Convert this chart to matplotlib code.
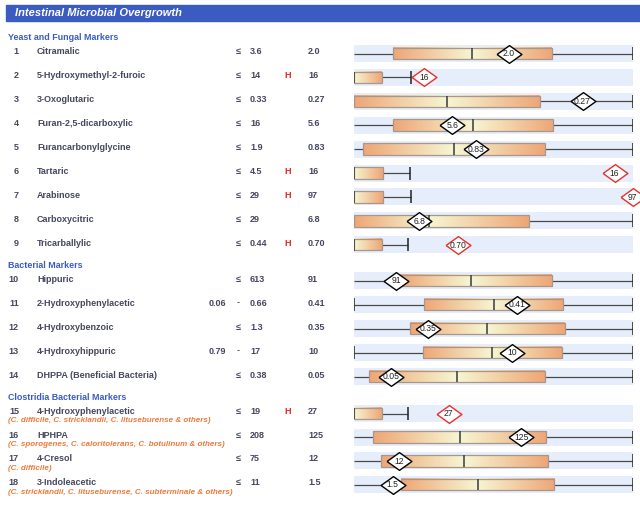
import numpy as np
import matplotlib
matplotlib.use("Agg")
import matplotlib.pyplot as plt
from matplotlib.colors import LinearSegmentedColormap
from matplotlib.patches import Rectangle

plt.rcParams['font.family'] = ['Liberation Sans', 'DejaVu Sans']

# === Data ===
TITLE = "Intestinal Microbial Overgrowth"
sections = ["Yeast and Fungal Markers", "Bacterial Markers", "Clostridia Bacterial Markers"]
section_sizes = [9, 5, 4]

names = ["Citramalic", "5-Hydroxymethyl-2-furoic", "3-Oxoglutaric", "Furan-2,5-dicarboxylic",
         "Furancarbonylglycine", "Tartaric", "Arabinose", "Carboxycitric", "Tricarballylic",
         "Hippuric", "2-Hydroxyphenylacetic", "4-Hydroxybenzoic", "4-Hydroxyhippuric",
         "DHPPA (Beneficial Bacteria)",
         "4-Hydroxyphenylacetic", "HPHPA", "4-Cresol", "3-Indoleacetic"]
subtitles = ["(C. difficile, C. stricklandii, C. lituseburense & others)",
             "(C. sporogenes, C. caloritolerans, C. botulinum & others)",
             "(C. difficile)",
             "(C. stricklandii, C. lituseburense, C. subterminale & others)"]
lower = ["", "", "", "", "", "", "", "", "", "", "0.06", "", "0.79", "", "", "", "", ""]
upper = ["3.6", "14", "0.33", "16", "1.9", "4.5", "29", "29", "0.44",
         "613", "0.66", "1.3", "17", "0.38", "19", "208", "75", "11"]
flags = ["", "H", "", "", "", "H", "H", "", "H", "", "", "", "", "", "H", "", "", ""]
results = ["2.0", "16", "0.27", "5.6", "0.83", "16", "97", "6.8", "0.70",
           "91", "0.41", "0.35", "10", "0.05", "27", "125", "12", "1.5"]

# box stats on a 0-1 scale
whisker_lo = [0, 0, 0, 0, 0, 0, 0, 0, 0, 0, 0, 0, 0, 0, 0, 0, 0, 0]
box_lo = [0.138, 0, 0, 0.138, 0.034, 0, 0, 0, 0, 0.165, 0.251, 0.201, 0.249, 0.054, 0, 0.069, 0.095, 0.170]
median = [0.423, 0, 0.335, 0.425, 0.359, 0, 0, 0.270, 0, 0.419, 0.500, 0.476, 0.496, 0.370, 0, 0.379, 0.395, 0.444]
box_hi = [0.709, 0.100, 0.668, 0.712, 0.684, 0.103, 0.103, 0.627, 0.099, 0.708, 0.750, 0.755, 0.744, 0.684,
          0.100, 0.689, 0.696, 0.717]
whisker_hi = [1, 0.203, 1, 1, 1, 0.201, 0.203, 1, 0.195, 1, 1, 1, 1, 1, 0.193, 1, 1, 1]
marker_pos = [0.556, 0.251, 0.819, 0.353, 0.438, 0.934, 0.999, 0.234, 0.374,
              0.151, 0.584, 0.267, 0.568, 0.132, 0.340, 0.599, 0.162, 0.138]

# === Styles ===
TXT = "#45475e"
BLUE = "#3a5bc4"
ORANGE = "#ef7a3a"
BAND = "#e6eefb"
grad = LinearSegmentedColormap.from_list("box", ["#eea676", "#f6f6d2"])
DIAMOND = [(-1.4, 0), (0, 1), (1.4, 0), (0, -1), (-1.4, 0)]

fig = plt.figure(figsize=(6.4, 5.05), dpi=100)
ax = fig.add_axes([0, 0, 1, 1])
ax.set_xlim(0, 640)
ax.set_ylim(505, 0)
ax.axis('off')
bx = fig.add_axes([354 / 640, 0, 279 / 640, 1])
bx.axis('off')

# === Header ===
ax.add_patch(Rectangle((6, 5), 634, 16, color="#3a5bbf"))
ax.text(15, 13.5, TITLE, color="white", fontsize=8.0, fontweight="bold", style="italic", va="center")

# === Row positions ===
section_y = [38, 266, 398]
first_row = [53.5, 280.5, 413.5]
steps = [23.9, 24.0, 23.7]
row_y = []
for s, n in enumerate(section_sizes):
    row_y += [first_row[s] + steps[s] * i for i in range(n)]

for s, title in enumerate(sections):
    ax.text(8, section_y[s], title, color=BLUE, fontsize=6.4, fontweight="bold", va="center")

ramp = np.linspace(0, 1, 128).reshape(1, -1)
n_clos = sum(section_sizes[:2])
for i, y in enumerate(row_y):
    ty = y - 1.5 if i < n_clos else y - 2
    ax.text(19, ty, str(i + 1), color=TXT, fontsize=6.5, fontweight="bold", va="center", ha="right")
    ax.text(37, ty, names[i], color=TXT, fontsize=6.5, fontweight="bold", va="center")
    if lower[i]:
        ax.text(226, ty, lower[i], color=TXT, fontsize=6.5, fontweight="bold", va="center", ha="right")
        ax.text(238.5, ty, "-", color=TXT, fontsize=6.5, fontweight="bold", va="center", ha="center")
    else:
        ax.text(238.5, ty, "≤", color=TXT, fontsize=6.5, fontweight="bold", va="center", ha="center")
    ax.text(250, ty, upper[i], color=TXT, fontsize=6.5, fontweight="bold", va="center")
    if flags[i]:
        ax.text(288, ty, flags[i], color="#e8221e", fontsize=6.5, fontweight="bold", va="center", ha="center")
    ax.text(308, ty, results[i], color=TXT, fontsize=6.5, fontweight="bold", va="center")
    if i >= n_clos:
        ax.text(8, y + 7.5, subtitles[i - n_clos], color=ORANGE, fontsize=5.8, fontweight="bold",
                style="italic", va="center")

    # band
    bx.barh(y, 1, height=17, left=0, color=BAND, zorder=1)
    # whiskers
    if box_lo[i] > whisker_lo[i]:
        bx.hlines(y, whisker_lo[i], box_lo[i], color="#4a4a4a", lw=0.9, zorder=2)
    bx.hlines(y, box_hi[i], whisker_hi[i], color="#4a4a4a", lw=0.9, zorder=2)
    bx.vlines(whisker_hi[i], y - 6.5, y + 6.5, color="#222222", lw=1.1, zorder=2)
    if lower[i]:
        bx.vlines(whisker_lo[i], y - 6.5, y + 6.5, color="#222222", lw=1.1, zorder=2)
    # box with gradient
    h = 5.8
    if median[i] > box_lo[i]:
        bx.imshow(ramp, cmap=grad, extent=[box_lo[i], median[i], y + h, y - h], aspect='auto',
                  interpolation='bilinear', zorder=3)
    bx.imshow(ramp[:, ::-1], cmap=grad, extent=[median[i], box_hi[i], y + h, y - h], aspect='auto',
              interpolation='bilinear', zorder=3)
    bx.add_patch(Rectangle((box_lo[i], y - h), box_hi[i] - box_lo[i], 2 * h, fill=False,
                           edgecolor="#a8968a", lw=0.9, zorder=4))
    bx.vlines(median[i], y - h, y + h, color="#3a3a3a", lw=1.1, zorder=5)
    # result marker
    edge = "#e8302a" if flags[i] else "black"
    bx.scatter([marker_pos[i]], [y], marker=DIAMOND, s=320,
               facecolor="white", edgecolor=edge, linewidth=1.0, zorder=6, clip_on=False)
    bx.text(marker_pos[i], y + 0.3, results[i], fontsize=6.2, color="#222222", ha="center", va="center",
            zorder=7, clip_on=False)

bx.set_xlim(0, 1)
bx.set_ylim(505, 0)

fig.savefig("out.png", dpi=100)
